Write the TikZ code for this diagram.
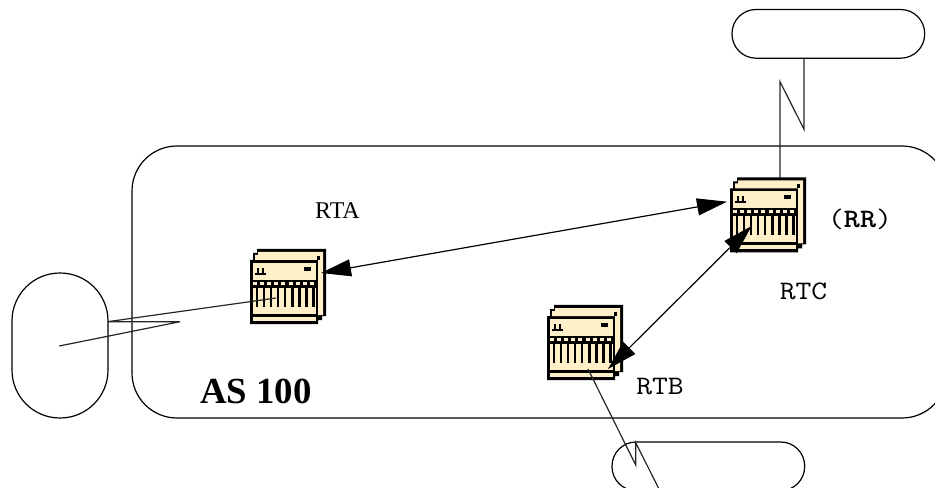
\documentclass[tikz,border=0pt]{standalone}
\usepackage{fontspec}
\setmainfont{Liberation Serif}
\usetikzlibrary{arrows.meta}
\definecolor{cream}{HTML}{FFEFC8}
\newcommand{\routerart}{%
  \fill[black] (7,0)--(76,0)--(76,67)--(72,67)--(72,71)--(68,71)--(68,75)--(0,75)--(0,11)--(3,11)--(3,4)--(7,4)--cycle;
  \fill[cream] (8,3)--(73,3)--(73,66)--(68,66)--(68,11)--(5,11)--(5,6)--(8,6)--cycle;
  \fill[black] (67,7) rectangle (70,11);
  \fill[cream] (3,14) rectangle (66,31);
  \fill[black] (5,24) rectangle (16,26);
  \fill[black] (7,19) rectangle (9,24);
  \fill[black] (12,19) rectangle (14,24);
  \fill[black] (54,18) rectangle (61,22);
  \foreach \i in {0,...,8}{\fill[cream] ({3+\i*7.1},33) rectangle ({7+\i*7.1},36);}
  \fill[cream] (3,39) rectangle (66,58);
  \foreach \i in {0,...,8}{\fill[black] ({5.5+\i*7.1},39) rectangle ({8+\i*7.1},58);}
  \fill[cream] (3,58) rectangle (66,65);
  \fill[cream] (3,68) rectangle (66,72);
}
\tikzset{
  px/.style={x=0.75pt,y=-0.75pt},
  pill/.style={draw,rectangle,inner sep=0pt,outer sep=0pt,line width=0.9pt,anchor=north west},
  routerbox/.style={rectangle,inner sep=0pt,outer sep=0pt,minimum width=57pt,minimum height=56.25pt,anchor=north west},
  link/.style={line width=0.9pt,draw=black!85,line join=miter},
  dbl/.style={line width=0.9pt,{Triangle[length=22.5pt,width=12.75pt]}-{Triangle[length=22.5pt,width=12.75pt]}},
  mono/.style={font=\fontsize{20}{22}\ttfamily,inner sep=0pt,anchor=center},
}
\newcommand{\wide}[1]{\scalebox{1.15}[1]{#1}}
\begin{document}
\begin{tikzpicture}[px]
\useasboundingbox (0,0) rectangle (935,488);
\clip (0,0) rectangle (935,488);
\node[pill,rounded corners=33.75pt,minimum width=611.25pt,minimum height=204pt] (as) at (132,146) {};
\node[pill,rounded corners=35.9pt,minimum width=72pt,minimum height=108.75pt] (cleft) at (12,273) {};
\node[pill,rounded corners=18pt,minimum width=144.5pt,minimum height=36.5pt] (ctop) at (732,9.5) {};
\node[pill,rounded corners=18pt,minimum width=144.5pt,minimum height=36.5pt] (cbot) at (612,442) {};
\node[routerbox] (rta) at (250,249) {};
\node[routerbox] (rtb) at (547,305) {};
\node[routerbox] (rtc) at (730,177.5) {};
\begin{scope}[shift={(rta.north west)}]\routerart\end{scope}
\begin{scope}[shift={(rtb.north west)}]\routerart\end{scope}
\begin{scope}[shift={(rtc.north west)}]\routerart\end{scope}
\coordinate (a1) at (276,298);
\coordinate (a2) at (107.7,321.7);
\coordinate (a3) at (180,321.7);
\coordinate (a4) at (59.3,346);
\coordinate (b1) at (588,369);
\coordinate (b2) at (635.7,465);
\coordinate (b3) at (635.7,442.7);
\coordinate (b4) at (660,491);
\coordinate (c1) at (780,178);
\coordinate (c2) at (780,81.7);
\coordinate (c3) at (804,129.3);
\coordinate (c4) at (804,58);
\coordinate (ta) at (321,273);
\coordinate (tc) at (727,201.7);
\coordinate (tc2) at (751.7,226);
\coordinate (tb) at (608,369);
\draw[link] (a1)--(a2)--(a3)--(a4);
\draw[link] (b1)--(b2)--(b3)--(b4);
\draw[link] (c1)--(c2)--(c3)--(c4);
\draw[dbl] (ta)--(tc);
\draw[dbl] (tc2)--(tb);
\node[inner sep=0pt,font=\fontsize{18}{20}\rmfamily] (lrta) at (337.5,211) {RTA};
\node[mono] (lrtc) at (803.5,291) {\wide{RTC}};
\node[mono] (lrtb) at (660,387) {\wide{RTB}};
\node[mono] (lrr) at (860,219) {\wide{(\textbf{RR})}};
\node[inner sep=0pt,font=\fontsize{27.6}{30}\bfseries\rmfamily] (las) at (256,391) {AS 100};
\end{tikzpicture}
\end{document}
